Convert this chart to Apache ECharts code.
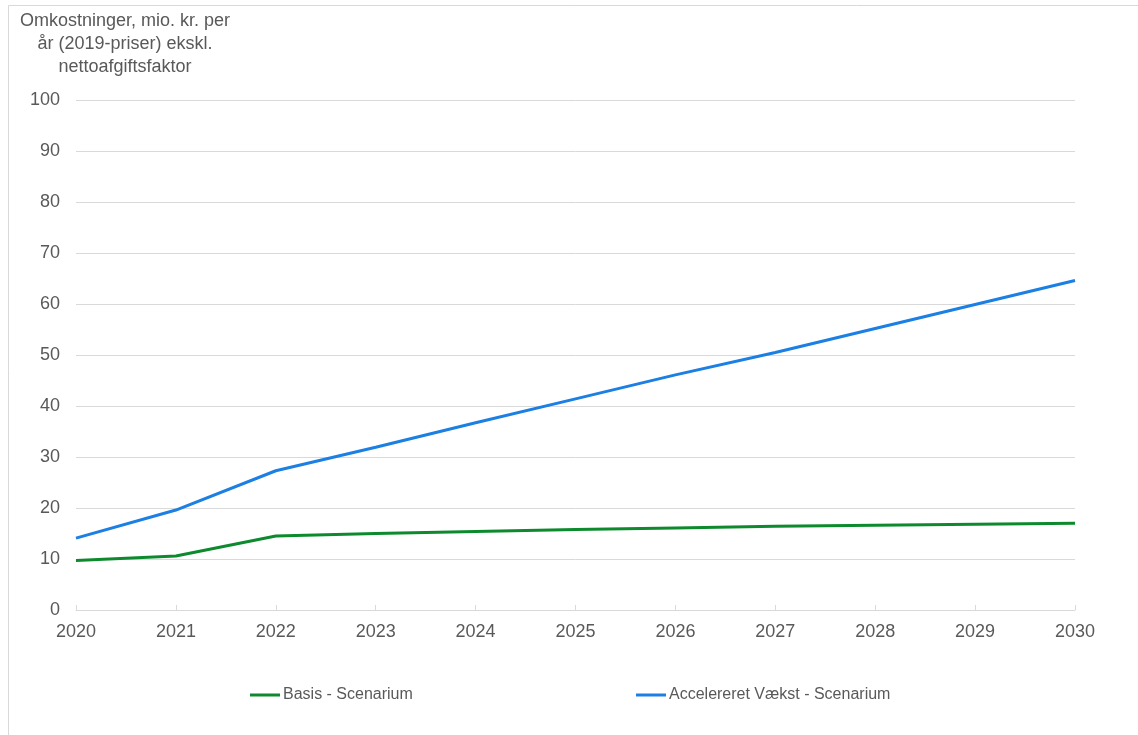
<!DOCTYPE html>
<html>
<head>
<meta charset="utf-8">
<script src="https://cdn.jsdelivr.net/npm/echarts@6/dist/echarts.min.js"></script>
<style>
  html, body { margin: 0; padding: 0; background: #fff; }
  #chart { width: 1138px; height: 735px; }
</style>
</head>
<body>
<div id="chart"></div>
<script>
// Years on the horizontal axis
const years = ['2020', '2021', '2022', '2023', '2024', '2025', '2026', '2027', '2028', '2029', '2030'];
// Annual costs, mio. kr. (2019 prices)
const basis = [9.7, 10.6, 14.5, 15.0, 15.4, 15.8, 16.1, 16.4, 16.6, 16.8, 17.0];
const accelereret = [14.1, 19.6, 27.3, 31.9, 36.7, 41.4, 46.1, 50.5, 55.2, 59.9, 64.6];
const seriesNames = ['Basis - Scenarium', 'Accelereret Vækst - Scenarium'];
const yTitle = 'Omkostninger, mio. kr. per\når (2019-priser) ekskl.\nnettoafgiftsfaktor';

const font = 'Liberation Sans, Arial, sans-serif';
const textColor = '#595959';
const gridColor = '#d9d9d9';
const green = '#0e8a2e';
const blue = '#1b7fe3';

const legendText = { color: textColor, fontSize: 16, fontFamily: font, padding: [0, 0, 0, -2] };

const chart = echarts.init(document.getElementById('chart'));
chart.setOption({
  animation: false,
  backgroundColor: '#fff',
  textStyle: { fontFamily: font },
  graphic: [
    {
      type: 'rect',
      shape: { x: 8.5, y: 5.5, width: 1400, height: 1000 },
      style: { fill: 'none', stroke: gridColor, lineWidth: 1 },
      silent: true
    },
    {
      type: 'text',
      x: 125,
      y: 10,
      style: {
        text: yTitle,
        fill: textColor,
        font: '18px ' + font,
        textAlign: 'center',
        lineHeight: 23
      }
    }
  ],
  legend: [
    {
      data: [seriesNames[0]],
      left: 245,
      top: 682,
      icon: 'rect',
      itemWidth: 30,
      itemHeight: 3,
      itemGap: 0,
      textStyle: legendText
    },
    {
      data: [seriesNames[1]],
      left: 631,
      top: 682,
      icon: 'rect',
      itemWidth: 30,
      itemHeight: 3,
      itemGap: 0,
      textStyle: legendText
    }
  ],
  grid: { left: 76, right: 63, top: 100, bottom: 125, containLabel: false },
  xAxis: {
    type: 'category',
    data: years,
    boundaryGap: false,
    axisLine: { lineStyle: { color: gridColor, width: 1 } },
    axisTick: { show: true, inside: true, length: 5, lineStyle: { color: gridColor } },
    axisLabel: { color: textColor, fontSize: 18, fontFamily: font, margin: 13 },
    splitLine: { show: false }
  },
  yAxis: {
    type: 'value',
    min: 0,
    max: 100,
    interval: 10,
    axisLine: { show: false },
    axisTick: { show: false },
    axisLabel: { color: textColor, fontSize: 18, fontFamily: font, margin: 16 },
    splitLine: { lineStyle: { color: gridColor, width: 1 } }
  },
  series: [
    {
      name: seriesNames[0],
      type: 'line',
      data: basis,
      symbol: 'none',
      lineStyle: { color: green, width: 3 },
      itemStyle: { color: green }
    },
    {
      name: seriesNames[1],
      type: 'line',
      data: accelereret,
      symbol: 'none',
      lineStyle: { color: blue, width: 3 },
      itemStyle: { color: blue }
    }
  ]
});
</script>
</body>
</html>
